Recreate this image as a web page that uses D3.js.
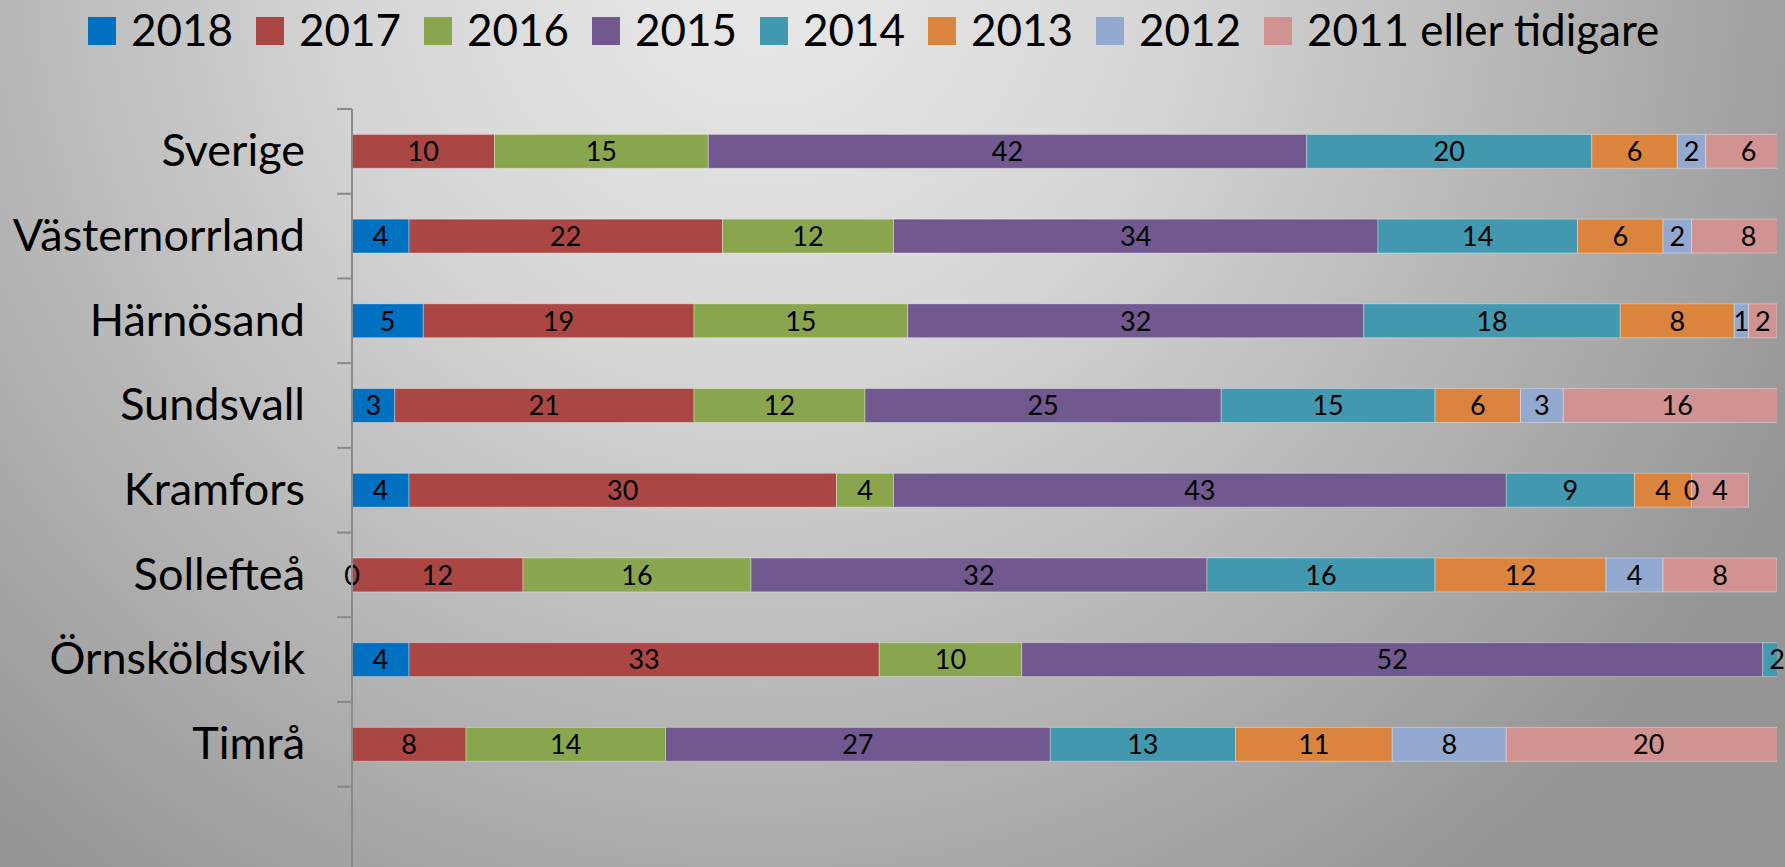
<!DOCTYPE html>
<html>
<head>
<meta charset="utf-8">
<script src="https://cdn.jsdelivr.net/npm/d3@7"></script>
<style>
  html, body { margin: 0; padding: 0; overflow: hidden; }
  svg { display: block; font-family: Lato, "Open Sans", sans-serif; }
</style>
</head>
<body>
<svg id="chart"></svg>
<script>
// categories and series (percent of respondents, by year of arrival)
const categories = ["Sverige", "Västernorrland", "Härnösand", "Sundsvall", "Kramfors", "Sollefteå", "Örnsköldsvik", "Timrå"];
const years = ["2018", "2017", "2016", "2015", "2014", "2013", "2012", "2011 eller tidigare"];

const v2018 = [null, 4, 5, 3, 4, 0, 4, null];
const v2017 = [10, 22, 19, 21, 30, 12, 33, 8];
const v2016 = [15, 12, 15, 12, 4, 16, 10, 14];
const v2015 = [42, 34, 32, 25, 43, 32, 52, 27];
const v2014 = [20, 14, 18, 15, 9, 16, 2, 13];
const v2013 = [6, 6, 8, 6, 4, 12, null, 11];
const v2012 = [2, 2, 1, 3, 0, 4, null, 8];
const v2011 = [6, 8, 2, 16, 4, 8, null, 20];

const seriesValues = [v2018, v2017, v2016, v2015, v2014, v2013, v2012, v2011];
const colors = ["#0070C0", "#AA4643", "#89A54E", "#71588F", "#4198AF", "#DB843D", "#93A9CF", "#D19392"];

const width = 1785;
const height = 867;

const svg = d3.select("#chart")
  .attr("width", width)
  .attr("height", height);

// background: soft grey radial gradient, light at the top
const defs = svg.append("defs");
const grad = defs.append("radialGradient")
  .attr("id", "bg")
  .attr("gradientUnits", "userSpaceOnUse")
  .attr("cx", 760).attr("cy", -40).attr("r", 1150);
grad.append("stop").attr("offset", 0).attr("stop-color", "#e9e9e9");
grad.append("stop").attr("offset", 0.35).attr("stop-color", "#d6d6d6");
grad.append("stop").attr("offset", 1).attr("stop-color", "#959595");
svg.append("rect")
  .attr("width", width).attr("height", height)
  .attr("fill", "url(#bg)");

// build table for d3.stack
const table = categories.map((c, i) => {
  const row = { name: c };
  years.forEach((y, k) => { row[y] = seriesValues[k][i]; });
  return row;
});
const stacked = d3.stack()
  .keys(years)
  .value((d, key) => d[key] == null ? 0 : d[key])(table);

const x = d3.scaleLinear().domain([0, 100]).range([352, 1777]);
const y = d3.scaleBand()
  .domain(categories)
  .range([109, 786.7])
  .paddingInner(0.6)
  .paddingOuter(0.3);

defs.append("clipPath").attr("id", "plot")
  .append("rect")
  .attr("x", x(0)).attr("y", 0)
  .attr("width", x(100) - x(0)).attr("height", height);

// bars
const layers = svg.append("g")
  .attr("clip-path", "url(#plot)")
  .selectAll("g")
  .data(stacked)
  .enter().append("g")
    .attr("fill", (d, i) => colors[i]);

layers.selectAll("rect")
  .data(d => d)
  .enter().append("rect")
    .attr("x", d => x(d[0]))
    .attr("y", d => y(d.data.name))
    .attr("width", d => x(d[1]) - x(d[0]))
    .attr("height", y.bandwidth())
    .attr("stroke", "rgba(255,255,255,0.35)")
    .attr("stroke-width", 1);

// data labels (skip missing values)
const labels = svg.append("g")
  .attr("font-size", 27)
  .attr("text-anchor", "middle")
  .attr("fill", "#000");

stacked.forEach(layer => {
  labels.selectAll(null)
    .data(layer.filter(d => d.data[layer.key] != null))
    .enter().append("text")
      .attr("x", d => (x(d[0]) + x(d[1])) / 2)
      .attr("y", d => y(d.data.name) + y.bandwidth() / 2)
      .attr("dy", "0.36em")
      .text(d => d.data[layer.key]);
});

// vertical category axis
const axisColor = "#8a8a8a";
svg.append("line")
  .attr("x1", x(0)).attr("x2", x(0))
  .attr("y1", 109).attr("y2", height)
  .attr("stroke", axisColor).attr("stroke-width", 2);

const gap = (y.step() - y.bandwidth()) / 2;
const boundaries = categories.map(c => y(c) - gap)
  .concat([y(categories[categories.length - 1]) + y.bandwidth() + gap]);
svg.append("g").selectAll("line")
  .data(boundaries)
  .enter().append("line")
    .attr("x1", x(0) - 15).attr("x2", x(0))
    .attr("y1", d => d).attr("y2", d => d)
    .attr("stroke", axisColor).attr("stroke-width", 2);

const yAxis = svg.append("g")
  .attr("transform", `translate(${x(0)},0)`)
  .call(d3.axisLeft(y).tickSize(0).tickPadding(47));
yAxis.select(".domain").remove();
yAxis.selectAll("text")
  .attr("font-family", "Lato, sans-serif")
  .attr("font-size", 45)
  .attr("fill", "#000")
  .attr("dy", "0.33em");

// legend
const legend = svg.append("g")
  .selectAll("g")
  .data(years)
  .enter().append("g")
    .attr("transform", (d, i) => `translate(${88 + i * 168},0)`);
legend.append("rect")
  .attr("x", 0).attr("y", 17)
  .attr("width", 28).attr("height", 28)
  .attr("fill", (d, i) => colors[i]);
legend.append("text")
  .attr("x", 43).attr("y", 46)
  .attr("font-size", 44)
  .attr("fill", "#000")
  .text(d => d);
</script>
</body>
</html>
